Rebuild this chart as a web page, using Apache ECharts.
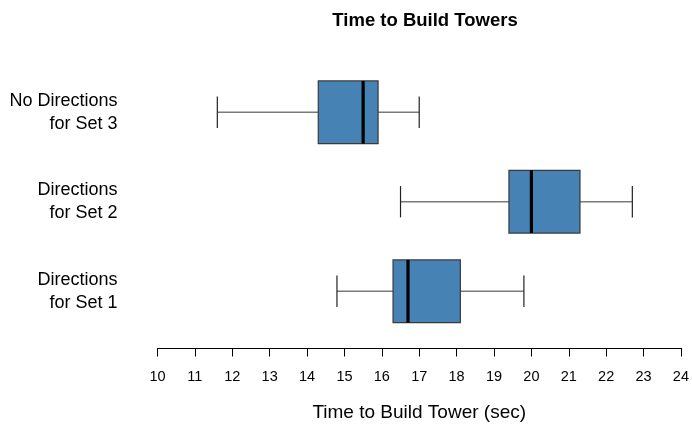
<!DOCTYPE html>
<html>
<head>
<meta charset="utf-8">
<script src="https://cdn.jsdelivr.net/npm/echarts@6/dist/echarts.min.js"></script>
<style>
html,body{margin:0;padding:0;background:#fff;}
#chart{width:692px;height:427px;}
</style>
</head>
<body>
<div id="chart"></div>
<script>
var categories = ['Directions\nfor Set 1', 'Directions\nfor Set 2', 'No Directions\nfor Set 3'];
var whiskerLow = [14.8, 16.5, 11.6];
var q1Values = [16.3, 19.4, 14.3];
var medianValues = [16.7, 20.0, 15.5];
var q3Values = [18.1, 21.3, 15.9];
var whiskerHigh = [19.8, 22.7, 17.0];
var xTicks = [10, 11, 12, 13, 14, 15, 16, 17, 18, 19, 20, 21, 22, 23, 24];

var seriesData = categories.map(function (c, i) {
  return [i, whiskerLow[i], q1Values[i], medianValues[i], q3Values[i], whiskerHigh[i]];
});

var FONT = '"Liberation Sans", Arial, Helvetica, sans-serif';

function renderBox(params, api) {
  var cat = api.value(0);
  var lo = api.coord([api.value(1), cat]);
  var b1 = api.coord([api.value(2), cat]);
  var md = api.coord([api.value(3), cat]);
  var b3 = api.coord([api.value(4), cat]);
  var hi = api.coord([api.value(5), cat]);
  var band = api.size([0, 1])[1];
  var h = band * 0.7;
  var cy = lo[1];
  var capH = h / 4;
  return {
    type: 'group',
    children: [
      { type: 'line', shape: { x1: lo[0], y1: cy, x2: b1[0], y2: cy }, style: { stroke: '#7a7a7a', lineWidth: 1.6 } },
      { type: 'line', shape: { x1: b3[0], y1: cy, x2: hi[0], y2: cy }, style: { stroke: '#7a7a7a', lineWidth: 1.6 } },
      { type: 'line', shape: { x1: lo[0], y1: cy - capH, x2: lo[0], y2: cy + capH }, style: { stroke: '#222', lineWidth: 1.2 } },
      { type: 'line', shape: { x1: hi[0], y1: cy - capH, x2: hi[0], y2: cy + capH }, style: { stroke: '#222', lineWidth: 1.2 } },
      { type: 'rect', shape: { x: b1[0], y: cy - h / 2, width: b3[0] - b1[0], height: h }, style: { fill: '#4682B4', stroke: '#3a3a3a', lineWidth: 1.2 } },
      { type: 'line', shape: { x1: md[0], y1: cy - h / 2, x2: md[0], y2: cy + h / 2 }, style: { stroke: '#000', lineWidth: 3.2 } }
    ]
  };
}

var chart = echarts.init(document.getElementById('chart'), null, { renderer: 'canvas' });
chart.setOption({
  animation: false,
  backgroundColor: '#fff',
  title: {
    text: 'Time to Build Towers',
    left: 420,
    textAlign: 'center',
    top: 6,
    textStyle: { fontFamily: FONT, fontSize: 18.5, fontWeight: 'bold', color: '#000' }
  },
  grid: { left: 157.5, right: 9.3, top: 67.5, bottom: 86.5, containLabel: false },
  xAxis: {
    type: 'value',
    min: 10,
    max: 24,
    interval: 1,
    offset: 12,
    name: 'Time to Build Tower (sec)',
    nameLocation: 'middle',
    nameGap: 55,
    nameTextStyle: { fontFamily: FONT, fontSize: 19, color: '#000' },
    axisLine: { show: true, lineStyle: { color: '#000', width: 1 } },
    axisTick: { show: true, length: 8.5, lineStyle: { color: '#000', width: 1 } },
    axisLabel: {
      margin: 21,
      fontFamily: FONT,
      fontSize: 14.5,
      color: '#000',
      formatter: function (v) { return xTicks.indexOf(v) >= 0 ? String(v) : ''; }
    },
    splitLine: { show: false }
  },
  yAxis: {
    type: 'category',
    data: categories,
    axisLine: { show: false },
    axisTick: { show: false },
    axisLabel: { margin: 40, fontFamily: FONT, fontSize: 18, lineHeight: 23, color: '#000', align: 'right', padding: [3, 0, 0, 0] },
    splitLine: { show: false }
  },
  series: [{
    type: 'custom',
    renderItem: renderBox,
    encode: { y: 0, x: [1, 2, 3, 4, 5] },
    data: seriesData
  }]
});
</script>
</body>
</html>
